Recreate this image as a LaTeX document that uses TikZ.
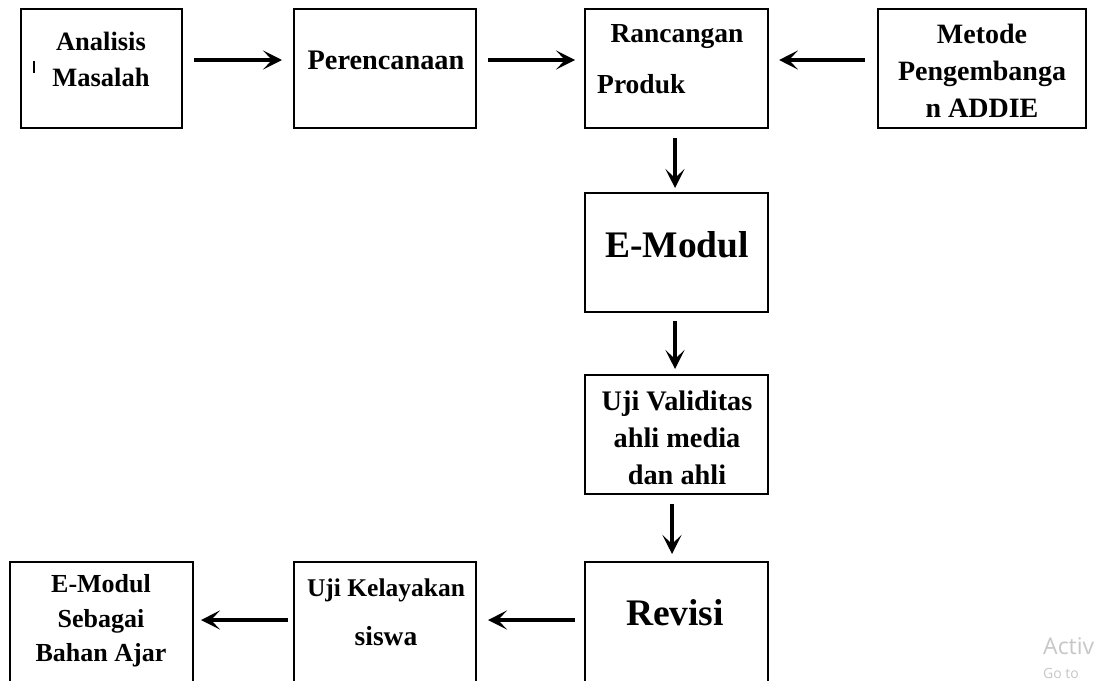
\documentclass[tikz,border=0pt]{standalone}
\usepackage{fontspec}
\setmainfont{Liberation Serif}
\newfontfamily\wmfont{Open Sans}
\usetikzlibrary{arrows.meta}
\tikzset{
  x=1pt,y=-1pt,
  box/.style={draw,line width=2pt,inner sep=0pt,rectangle},
  txt/.style={inner sep=0pt,font=\bfseries\fontsize{27.5}{36}\selectfont,align=center},
  bigtxt/.style={inner sep=0pt,font=\bfseries\fontsize{37.5}{44}\selectfont,align=center},
  arr/.style={line width=3.5pt,-{Stealth[length=19pt,width=19pt,inset=9pt]}},
}
\begin{document}
\begin{tikzpicture}
\useasboundingbox (0,0) rectangle (1102,680);
\clip (0,0) rectangle (1102,680);
\fill[white] (0,0) rectangle (1102,680);
% boxes
\node[box,minimum width=161pt,minimum height=119pt] (am) at (101.5,68.5) {};
\node[box,minimum width=182pt,minimum height=119pt] (pr) at (385,68.5) {};
\node[box,minimum width=183pt,minimum height=119pt] (rp) at (676.5,68.5) {};
\node[box,minimum width=208pt,minimum height=119pt] (md) at (982,68.5) {};
\node[box,minimum width=183pt,minimum height=119pt] (em) at (676.5,252.5) {};
\node[box,minimum width=183pt,minimum height=119pt] (uv) at (676.5,434.5) {};
\node[box,minimum width=183pt,minimum height=140pt] (rv) at (676.5,632) {};
\node[box,minimum width=182pt,minimum height=140pt] (uk) at (385,632) {};
\node[box,minimum width=183pt,minimum height=140pt] (es) at (101.5,632) {};
% texts
\node[txt,font=\bfseries\fontsize{26.5}{36}\selectfont] (t1) at (101,59) {Analisis\\Masalah};
\node[txt,font=\bfseries\fontsize{28.3}{36}\selectfont] (t2) at (386,60) {Perencanaan};
\node[txt] (t3) at (677,37) {Rancangan};
\node[txt,anchor=west] (t4) at (597,84) {Produk};
\node[txt,font=\bfseries\fontsize{28}{37}\selectfont] (t5) at (982,71) {Metode\\Pengembanga\\n ADDIE};
\node[bigtxt] (t6) at (677,245) {E-Modul};
\node[txt,font=\bfseries\fontsize{28.3}{37}\selectfont] (t7) at (677,438) {Uji Validitas\\ahli media\\dan ahli};
\node[bigtxt] (t8) at (675,613) {Revisi};
\node[txt,font=\bfseries\fontsize{25.5}{36}\selectfont] (t9) at (386,590) {Uji Kelayakan};
\node[txt] (t10) at (386,636) {siswa};
\node[txt,font=\bfseries\fontsize{26}{34.5}\selectfont] (t11) at (101,621) {E-Modul\\Sebagai\\Bahan Ajar};
% cursor mark
\draw[line width=1.5pt] (34,61) -- (34,73);
% watermark
\node[anchor=west,inner sep=0pt,text=black!22,font=\wmfont\fontsize{23}{23}\selectfont] (w1) at (1043,646) {Activ};
\node[anchor=west,inner sep=0pt,text=black!22,font=\wmfont\fontsize{14}{14}\selectfont] (w2) at (1043,673) {Go to};
% arrows
\draw[arr,shorten <=11pt,shorten >=11pt] ([yshift=8.5pt]am.east) -- ([yshift=8.5pt]pr.west);
\draw[arr,shorten <=11pt,shorten >=9pt] ([yshift=8.5pt]pr.east) -- ([yshift=8.5pt]rp.west);
\draw[arr,shorten <=12pt,shorten >=10pt] ([yshift=8.5pt]md.west) -- ([yshift=8.5pt]rp.east);
\draw[arr,shorten <=9pt,shorten >=4pt] ([xshift=-1.5pt]rp.south) -- ([xshift=-1.5pt]em.north);
\draw[arr,shorten <=8pt,shorten >=5pt] ([xshift=-1.5pt]em.south) -- ([xshift=-1.5pt]uv.north);
\draw[arr,shorten <=9pt,shorten >=7pt] ([xshift=-4.5pt]uv.south) -- ([xshift=-4.5pt]rv.north);
\draw[arr,shorten <=9pt,shorten >=11pt] ([yshift=12pt]rv.west) -- ([yshift=12pt]uk.east);
\draw[arr,shorten <=5pt,shorten >=7pt] ([yshift=12pt]uk.west) -- ([yshift=12pt]es.east);
\end{tikzpicture}
\end{document}
